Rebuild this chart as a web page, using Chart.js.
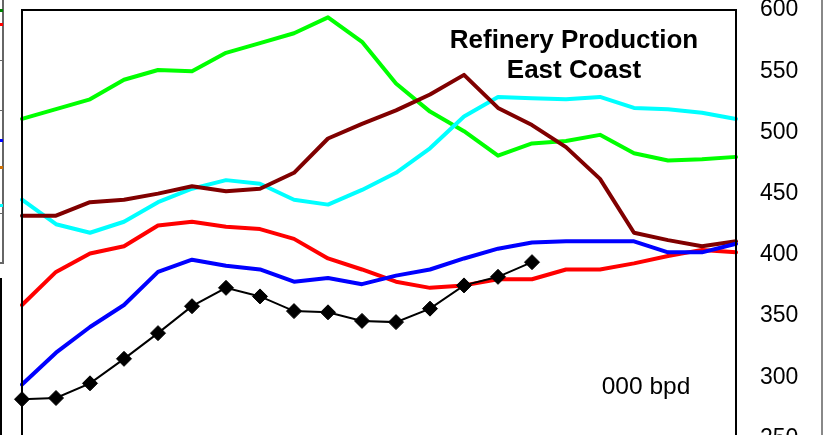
<!DOCTYPE html>
<html>
<head>
<meta charset="utf-8">
<script src="https://cdn.jsdelivr.net/npm/chart.js@4.4.1/dist/chart.umd.min.js"></script>
<style>
  html, body { margin:0; padding:0; background:#fff; width:824px; height:435px; overflow:hidden; position:relative; font-family:"Liberation Sans", Arial, sans-serif; }
  #wrap { position:absolute; left:0; top:-10px; width:824px; height:470px; }
  .deco { position:absolute; }
  #title { position:absolute; left:424px; top:24px; width:300px; text-align:center; font-weight:bold; font-size:26px; line-height:30px; color:#000; }
  #unit { position:absolute; left:560px; top:374px; width:172px; text-align:center; font-size:24.5px; line-height:24px; color:#000; }
</style>
</head>
<body>
<div id="wrap"><canvas id="c" width="824" height="470"></canvas></div>
<div id="title">Refinery Production<br>East Coast</div>
<div id="unit">000 bpd</div>
<!-- partial neighbouring panel fragments at the edges -->
<div class="deco" style="left:2px;top:0;width:2px;height:263px;background:#666;"></div>
<div class="deco" style="left:0;top:262px;width:4px;height:2px;background:#666;"></div>
<div class="deco" style="left:0;top:60px;width:3px;height:1px;background:#666;"></div>
<div class="deco" style="left:0;top:110px;width:3px;height:1px;background:#666;"></div>
<div class="deco" style="left:0;top:213px;width:3px;height:1px;background:#666;"></div>
<div class="deco" style="left:0;top:9px;width:3px;height:3px;background:#008000;"></div>
<div class="deco" style="left:0;top:23px;width:3px;height:3px;background:#ff0000;"></div>
<div class="deco" style="left:0;top:139px;width:3px;height:3px;background:#0000ff;"></div>
<div class="deco" style="left:0;top:166px;width:3px;height:3px;background:#d07000;"></div>
<div class="deco" style="left:0;top:204px;width:3px;height:3px;background:#00ffff;"></div>
<div class="deco" style="left:0;top:278px;width:2px;height:160px;background:#000;"></div>
<div class="deco" style="left:821px;top:0;width:2px;height:435px;background:#888;"></div>
<script>
const categories = ['1','2','3','4','5','6','7','8','9','10','11','12','13','14','15','16','17','18','19','20','21','22'];
const yTicks = [250, 300, 350, 400, 450, 500, 550, 600];

const currentVals = [282, 283, 295, 315, 336, 358, 373, 366, 354, 353, 346, 345, 356, 375, 382, 394];
const blueVals    = [294, 320, 341, 359, 386, 396, 391, 388, 378, 381, 376, 383, 388, 397, 405, 410, 411, 411, 411, 402, 402, 409];
const redVals     = [359, 386, 401, 407, 424, 427, 423, 421, 413, 397, 388, 378, 373, 375, 380, 380, 388, 388, 393, 399, 404, 402];
const maroonVals  = [432, 432, 443, 445, 450, 456, 452, 454, 467, 495, 507, 518, 531, 547, 520, 506, 488, 462, 418, 412, 407, 411];
const cyanVals    = [445, 425, 418, 427, 443, 454, 461, 458, 445, 441, 453, 467, 487, 513, 529, 528, 527, 529, 520, 519, 516, 511];
const greenVals   = [511, 519, 527, 543, 551, 550, 565, 573, 581, 594, 574, 540, 517, 501, 481, 491, 493, 498, 483, 477, 478, 480];

function lineDs(label, data, color) {
  return { label, data, borderColor: color, backgroundColor: color, borderWidth: 4,
           pointRadius: 0, tension: 0, borderJoinStyle: 'round', borderCapStyle: 'round', fill: false };
}

const frame = {
  id: 'frame',
  afterDraw(chart) {
    const a = chart.chartArea, ctx = chart.ctx;
    ctx.save();
    ctx.strokeStyle = '#000';
    ctx.lineWidth = 2;
    ctx.strokeRect(a.left, a.top, a.right - a.left, a.bottom - a.top);
    ctx.restore();
  }
};

new Chart(document.getElementById('c'), {
  type: 'line',
  data: {
    labels: categories,
    datasets: [
      { label: 'Current', data: currentVals, borderColor: '#000', backgroundColor: '#000', borderWidth: 2,
        pointStyle: 'rectRot', pointRadius: 7.5, pointBorderWidth: 1, pointBackgroundColor: '#000', pointBorderColor: '#000', tension: 0 },
      lineDs('Series 2', blueVals, '#0000ff'),
      lineDs('Series 3', redVals, '#ff0000'),
      lineDs('Series 4', maroonVals, '#800000'),
      lineDs('Series 5', cyanVals, '#00ffff'),
      lineDs('Series 6', greenVals, '#00ff00')
    ]
  },
  options: {
    responsive: false,
    devicePixelRatio: 1,
    animation: false,
    layout: { padding: { left: 22, right: 0, top: 20, bottom: 21.6 } },
    plugins: { legend: { display: false }, tooltip: { enabled: false } },
    scales: {
      x: { display: false, offset: false },
      y: {
        position: 'right',
        min: 250, max: 600,
        afterFit(scale) { scale.width = 88; scale.paddingTop = 0; scale.paddingBottom = 0; },
        afterBuildTicks(scale) { scale.ticks = yTicks.map(v => ({ value: v })); },
        grid: { display: false, drawTicks: false },
        border: { display: false },
        ticks: { padding: 24, color: '#000', font: { family: '"Liberation Sans", Arial, sans-serif', size: 23 } }
      }
    }
  },
  plugins: [frame]
});
</script>
</body>
</html>
